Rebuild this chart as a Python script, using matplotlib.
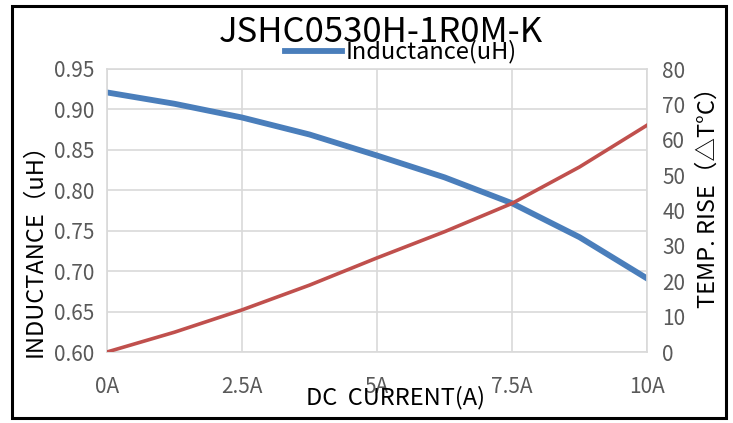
import matplotlib
matplotlib.use("Agg")
import matplotlib.pyplot as plt
from matplotlib.patches import Rectangle

plt.rcParams['font.family'] = ['Noto Sans CJK SC', 'DejaVu Sans']

# --- data ---
current = [0, 1.25, 2.5, 3.75, 5, 6.25, 7.5, 8.75, 10]
inductance = [0.921, 0.907, 0.890, 0.869, 0.843, 0.816, 0.784, 0.742, 0.691]
temp_rise = [0, 5.6, 11.9, 18.9, 26.6, 34.0, 42.0, 52.3, 64.1]

x_ticks = [0, 2.5, 5, 7.5, 10]
x_labels = ['0A', '2.5A', '5A', '7.5A', '10A']
l_ticks = [0.60, 0.65, 0.70, 0.75, 0.80, 0.85, 0.90, 0.95]
r_ticks = [0, 10, 20, 30, 40, 50, 60, 70, 80]

BLUE = '#4A7EBB'
RED = '#C0504D'
GRID = '#D9D9D9'
TICK = '#595959'

fig = plt.figure(figsize=(7.33, 4.23), dpi=100)
ax = fig.add_axes([107 / 733, 1 - 352 / 423, 540 / 733, 283 / 423])

ax.plot(current, inductance, color=BLUE, lw=4.2, solid_joinstyle='round',
        label='Inductance(uH)')
ax.set_xlim(0, 10)
ax.set_ylim(0.60, 0.95)
ax.set_xticks(x_ticks)
ax.set_xticklabels(x_labels)
ax.set_yticks(l_ticks)
ax.set_yticklabels([f"{v:.2f}" for v in l_ticks])
ax.grid(True, color=GRID, lw=1.2)
ax.set_axisbelow(True)
for s in ax.spines.values():
    s.set_color(GRID)
    s.set_linewidth(1.2)
ax.tick_params(length=0, labelsize=15, labelcolor=TICK)
ax.tick_params(axis='y', pad=9)
ax.tick_params(axis='x', pad=17)

ax2 = ax.twinx()
ax2.plot(current, temp_rise, color=RED, lw=2.6, solid_joinstyle='round')
ax2.set_ylim(0, 80)
ax2.set_yticks(r_ticks)
for s in ax2.spines.values():
    s.set_visible(False)
ax2.tick_params(length=0, labelsize=15, labelcolor=TICK, pad=11)

# titles / labels
fig.text(381 / 733, 1 - 32 / 423, 'JSHC0530H-1R0M-K', ha='center', va='center',
         fontsize=25, color='black')
fig.text(35 / 733, 1 - 244 / 423, 'INDUCTANCE（uH）', rotation=90, ha='center',
         va='center', fontsize=17, color='black')
fig.text(708 / 733, 1 - 192 / 423, 'TEMP. RISE（△T°C）', rotation=90, ha='center',
         va='center', fontsize=17, color='black')
fig.text(395 / 733, 1 - 398 / 423, 'DC  CURRENT(A)', ha='center', va='center',
         fontsize=17, color='black')

fig.legend(loc='center', bbox_to_anchor=(401 / 733, 1 - 52 / 423), frameon=False,
           fontsize=17, handlelength=2.4, handletextpad=0.15, borderpad=0.1)

# outer black frame
fig.patches.append(Rectangle((12 / 733, 5 / 423), 714 / 733, 412 / 423,
                             transform=fig.transFigure, fill=False,
                             edgecolor='black', lw=2.2))

fig.savefig('out.png', dpi=100)
